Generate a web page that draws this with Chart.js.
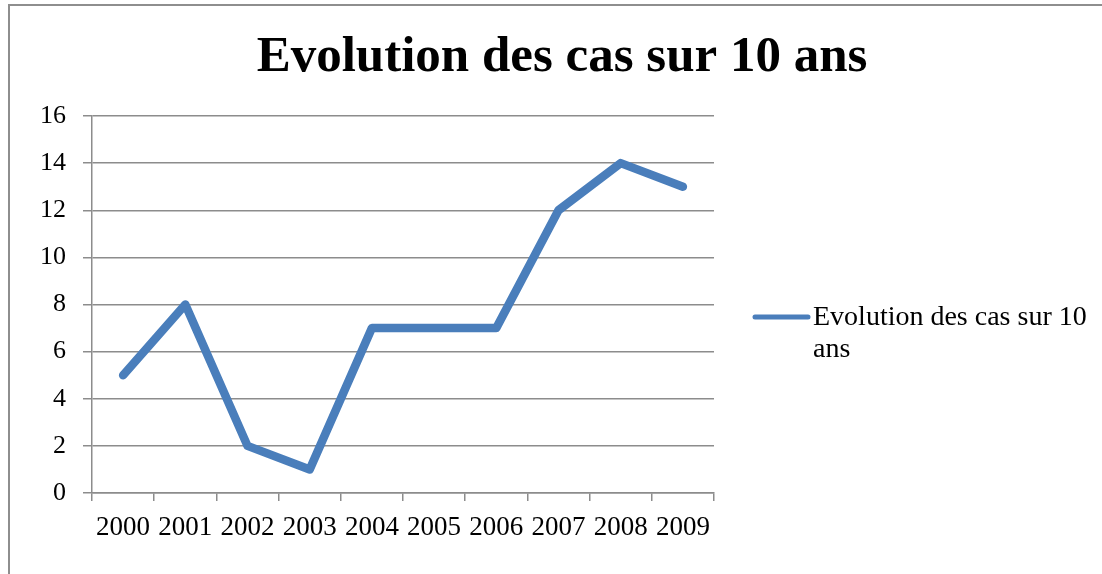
<!DOCTYPE html>
<html>
<head>
<meta charset="utf-8">
<script src="https://cdn.jsdelivr.net/npm/chart.js@4/dist/chart.umd.min.js"></script>
<style>
  html, body { margin: 0; padding: 0; background: #fff; overflow: hidden; }
  #frame { position: absolute; left: 8px; top: 4px; width: 1300px; height: 800px; border: 2px solid #8e8e8e; box-sizing: border-box; }
  #wrap { position: absolute; left: 0; top: 0; width: 1102px; height: 574px; }
</style>
</head>
<body>
<div id="frame"></div>
<div id="wrap"><canvas id="c" width="1102" height="574"></canvas></div>
<script>
const titleText = "Evolution des cas sur 10 ans";
const seriesLabel = "Evolution des cas sur 10 ans";
const legendLines = ["Evolution des cas sur 10", "ans"];
const categories = ["2000", "2001", "2002", "2003", "2004", "2005", "2006", "2007", "2008", "2009"];
const cases = [5, 8, 2, 1, 7, 7, 7, 12, 14, 13];
const yTicks = [0, 2, 4, 6, 8, 10, 12, 14, 16];

const lineColor = "#4a7ebb";
const gridColor = "#8c8c8c";
const serif = "'Liberation Serif', 'DejaVu Serif', serif";

const decorPlugin = {
  id: "decor",
  afterDraw(chart) {
    const ctx = chart.ctx;
    ctx.save();
    // title
    ctx.fillStyle = "#000";
    ctx.font = "bold 51px " + serif;
    ctx.textAlign = "center";
    ctx.textBaseline = "middle";
    ctx.fillText(titleText, 562, 58);
    // legend
    const ly = 317;
    ctx.strokeStyle = lineColor;
    ctx.lineWidth = 5;
    ctx.lineCap = "round";
    ctx.beginPath();
    ctx.moveTo(755, ly);
    ctx.lineTo(808, ly);
    ctx.stroke();
    ctx.font = "28px " + serif;
    ctx.textAlign = "left";
    ctx.fillText(legendLines[0], 813, ly + 1);
    ctx.fillText(legendLines[1], 813, ly + 33);
    ctx.restore();
  }
};

new Chart(document.getElementById("c"), {
  type: "line",
  data: {
    labels: categories,
    datasets: [{
      label: seriesLabel,
      data: cases,
      borderColor: lineColor,
      backgroundColor: lineColor,
      borderWidth: 8.5,
      pointRadius: 0,
      borderCapStyle: "round",
      borderJoinStyle: "round",
      tension: 0
    }]
  },
  options: {
    responsive: false,
    animation: false,
    layout: { padding: { left: 0, top: 116, right: 388, bottom: 0 } },
    plugins: {
      legend: { display: false },
      title: { display: false },
      tooltip: { enabled: false }
    },
    scales: {
      x: {
        offset: true,
        grid: { offset: true, drawOnChartArea: false, drawTicks: true, tickLength: 8, color: gridColor, lineWidth: 1.5 },
        border: { color: gridColor, width: 1.5 },
        ticks: { color: "#000", font: { family: serif, size: 27 }, padding: 11, maxRotation: 0, autoSkip: false },
        afterFit(s) { s.height = 81; }
      },
      y: {
        min: 0, max: 16,
        afterBuildTicks(s) { s.ticks = yTicks.map(v => ({ value: v })); },
        grid: { color: gridColor, lineWidth: 1.5, tickLength: 9 },
        border: { color: gridColor, width: 1.5 },
        ticks: { color: "#000", font: { family: serif, size: 26 }, padding: 17 },
        afterFit(s) { s.width = 92; }
      }
    }
  },
  plugins: [decorPlugin]
});
</script>
</body>
</html>
